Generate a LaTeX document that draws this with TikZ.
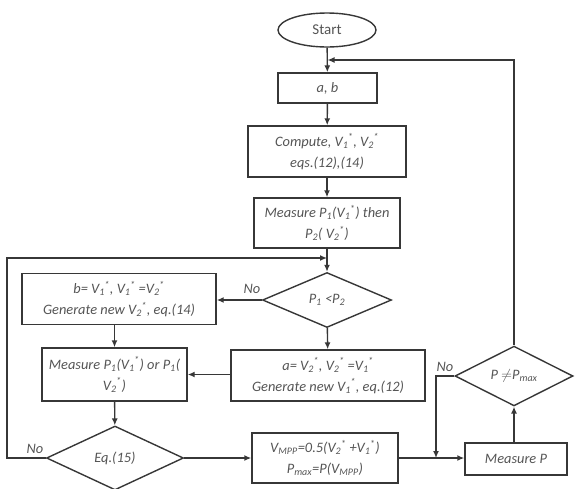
\documentclass[tikz,border=0pt]{standalone}
\usepackage{fontspec}
\setmainfont{Carlito}
\usetikzlibrary{arrows.meta,shapes.geometric}
\definecolor{txtgray}{RGB}{85,85,85}
\definecolor{lngray}{RGB}{55,55,55}
\newcommand{\vs}[1]{V\textsubscript{#1}\kern-0.5pt\textsuperscript{*}}
\tikzset{
  every node/.style={text=txtgray,font=\fontsize{14.4}{21}\selectfont\itshape,align=center},
  box/.style={draw=lngray,line width=1.4pt,rectangle,inner sep=0pt},
  decision/.style={draw=lngray,line width=1.4pt,diamond,inner sep=0pt,aspect=1},
  flow/.style={draw=lngray,line width=1.4pt,-{Latex[length=7pt,width=6pt]}},
  lbl/.style={font=\fontsize{14.4}{16}\selectfont\itshape}
}

\begin{document}
\begin{tikzpicture}[x=1pt,y=-1pt]
  \useasboundingbox (0,0) rectangle (575,488);
  % main column
  \node[box,ellipse,minimum width=98pt,minimum height=34pt,font=\fontsize{15}{16}\selectfont] (start) at (327,30) {Start};
  \node[box,minimum width=99pt,minimum height=30pt] (ab) at (327.5,88) {a, b};
  \node[box,minimum width=158pt,minimum height=51pt] (comp) at (327,151.5)
    {Compute, \vs1, \vs2\\eqs.(12),(14)};
  \node[box,minimum width=146pt,minimum height=50pt] (meas) at (327,223)
    {Measure P\textsubscript{1}(\vs1) then\\P\textsubscript{2}( \vs2)};
  \node[decision,minimum width=129pt,minimum height=55pt] (pcmp) at (327,300)
    {P\textsubscript{1} <P\textsubscript{2}};
  \node[box,minimum width=194pt,minimum height=51pt] (bnew) at (119,299)
    {b= \vs1, \vs1 =\vs2\\Generate new \vs2, eq.(14)};
  \node[box,minimum width=194pt,minimum height=51pt] (anew) at (328,375.5)
    {a= \vs2, \vs2 =\vs1\\Generate new \vs1, eq.(12)};
  \node[box,minimum width=145pt,minimum height=53pt] (measone) at (114.5,374.5)
    {Measure P\textsubscript{1}(\vs1) or P\textsubscript{1}(\\\vs2)};
  \node[decision,minimum width=137pt,minimum height=64pt] (eqchk) at (115,458) {Eq.(15)};
  \node[box,minimum width=146pt,minimum height=50pt] (vmpp) at (325,458)
    {V\textsubscript{MPP}=0.5(\vs2 +\vs1)\\P\textsubscript{max}=P(V\textsubscript{MPP})};
  \node[box,minimum width=102pt,minimum height=32pt] (measp) at (516,459) {Measure P};
  \node[decision,minimum width=118pt,minimum height=54pt] (pchk) at (514,376)
    {P $\neq$P\textsubscript{max}};
  % junctions
  \coordinate (jmeas) at (327,258);
  \coordinate (jab) at (327.5,60);
  \coordinate (jmp) at (436,458);
  % connectors
  \draw[flow] (start) -- (ab);
  \draw[flow] (ab) -- (comp);
  \draw[flow] (comp) -- (meas);
  \draw[flow] (meas) -- (pcmp);
  \draw[flow] (pcmp.west) -- (bnew.east |- pcmp.west);
  \draw[flow] (pcmp) -- (anew);
  \draw[flow] (measone.north |- bnew.south) -- (measone.north);
  \draw[flow] (anew.west |- measone.east) -- (measone.east);
  \draw[flow] (measone) -- (eqchk);
  \draw[flow] (eqchk.west) -- (7,458) |- (jmeas);
  \draw[flow] (eqchk.east) -- (vmpp.west);
  \draw[flow] (vmpp.east) -- (measp.west |- vmpp.east);
  \draw[flow] (measp.north -| pchk.south) -- (pchk.south);
  \draw[flow] (pchk.west) -| (jmp);
  \draw[flow] (pchk.north) |- (jab);
  % labels
  \node[lbl] (nocmp) at (252,289) {No};
  \node[lbl] (noeq) at (35,449) {No};
  \node[lbl] (nop) at (445,367) {No};
\end{tikzpicture}
\end{document}
